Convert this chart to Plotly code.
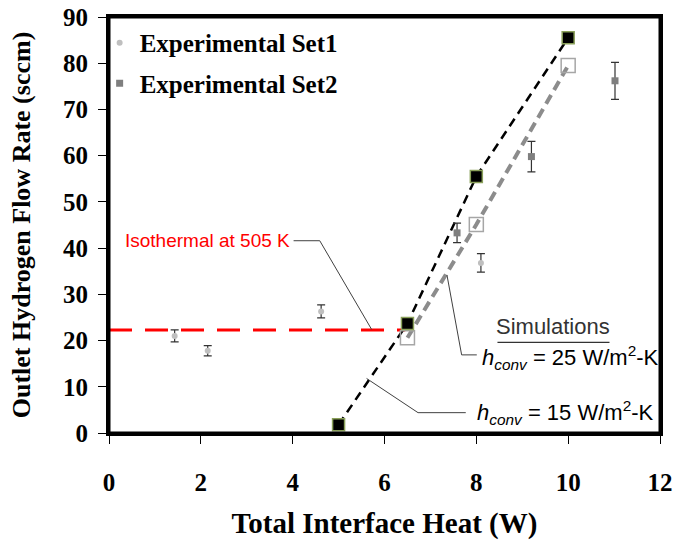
import plotly.graph_objects as go

# ---- data ----
set1_x = [1.43, 2.15, 4.62, 8.10]
set1_y = [21.0, 17.8, 26.3, 36.8]
set1_err = [1.3, 1.1, 1.4, 2.0]

set2_x = [7.58, 9.20, 11.02]
set2_y = [43.3, 59.8, 76.2]
set2_err = [2.1, 3.3, 4.0]

sim15_x = [5.0, 6.5, 8.0, 10.0]
sim15_y = [1.8, 23.7, 55.5, 85.5]

sim25_x = [6.5, 8.0, 10.0]
sim25_y = [20.6, 45.1, 79.5]

iso_x = [0.0, 6.45]
iso_y = [22.3, 22.3]

x_ticks = [0, 2, 4, 6, 8, 10, 12]
y_ticks = [0, 10, 20, 30, 40, 50, 60, 70, 80, 90]

SERIF = "Liberation Serif, Times New Roman, serif"
SANS = "Liberation Sans, Arial, sans-serif"

fig = go.Figure()

# isothermal red dashed line
fig.add_trace(go.Scatter(x=iso_x, y=iso_y, mode="lines",
                         line=dict(color="#ff0000", width=3, dash="23px,13px"),
                         showlegend=False, hoverinfo="skip"))

# simulation lines
fig.add_trace(go.Scatter(x=sim25_x, y=sim25_y, mode="lines",
                         line=dict(color="#8c8c8c", width=4, dash="10px,6px"),
                         showlegend=False))
fig.add_trace(go.Scatter(x=sim15_x, y=sim15_y, mode="lines",
                         line=dict(color="#000000", width=2.5, dash="9px,6px"),
                         showlegend=False))

# simulation markers
fig.add_trace(go.Scatter(x=sim25_x, y=sim25_y, mode="markers",
                         marker=dict(symbol="square-open", size=14, color="#a6a6a6",
                                     line=dict(width=1.5, color="#a6a6a6")),
                         showlegend=False))
fig.add_trace(go.Scatter(x=sim15_x, y=sim15_y, mode="markers",
                         marker=dict(symbol="square", size=12, color="#000000",
                                     line=dict(width=1.5, color="#8aa05a")),
                         showlegend=False))

# experimental data
fig.add_trace(go.Scatter(x=set1_x, y=set1_y, mode="markers", name="<b>Experimental Set1</b>",
                         legendgroup="a",
                         marker=dict(symbol="circle", size=6, color="#bfbfbf"),
                         error_y=dict(type="data", array=set1_err, visible=True,
                                      color="#333333", thickness=1.2, width=4)))
fig.add_trace(go.Scatter(x=set2_x, y=set2_y, mode="markers", name="<b>Experimental Set2</b>",
                         legendgroup="b",
                         marker=dict(symbol="square", size=7, color="#7f7f7f"),
                         error_y=dict(type="data", array=set2_err, visible=True,
                                      color="#333333", thickness=1.2, width=4)))

# leader lines
lead = dict(color="#404040", width=1)
fig.add_shape(type="path", xref="x", yref="y",
              path="M 4.02 41.6 L 4.59 41.6 L 5.72 22.4", line=lead)
fig.add_shape(type="path", xref="x", yref="y",
              path="M 7.36 34.2 L 7.68 16.9 L 8.01 16.9", line=lead)
fig.add_shape(type="path", xref="x", yref="y",
              path="M 5.61 11.8 L 6.73 4.4 L 7.77 4.4", line=lead)

# plot frame
fig.add_shape(type="rect", xref="paper", yref="paper", x0=0, x1=1, y0=0, y1=1,
              line=dict(color="black", width=3), layer="above")

# annotations
fig.add_annotation(x=3.98, y=41.6, xref="x", yref="y", xanchor="right", yanchor="middle",
                   text="Isothermal at 505 K", showarrow=False,
                   font=dict(family=SANS, size=19, color="#ff0000"))
fig.add_annotation(x=9.68, y=23.0, xref="x", yref="y", xanchor="center", yanchor="middle",
                   text="Simulations", showarrow=False,
                   font=dict(family=SANS, size=22, color="#333333"))
fig.add_shape(type="line", xref="x", yref="y", x0=8.46, x1=10.9, y0=19.6, y1=19.6,
              line=dict(color="#333333", width=1.3))
fig.add_annotation(x=8.07, y=16.4, xref="x", yref="y", xanchor="left", yanchor="middle",
                   text="<i>h</i><sub><i>conv</i></sub> = 25 W/m<sup>2</sup>-K",
                   showarrow=False, font=dict(family=SANS, size=22, color="#000000"))
fig.add_annotation(x=7.98, y=4.5, xref="x", yref="y", xanchor="left", yanchor="middle",
                   text="<i>h</i><sub><i>conv</i></sub> = 15 W/m<sup>2</sup>-K",
                   showarrow=False, font=dict(family=SANS, size=22, color="#000000"))

fig.update_layout(
    width=676, height=543,
    margin=dict(l=109, r=16, t=17, b=110),
    plot_bgcolor="white", paper_bgcolor="white",
    legend=dict(x=-0.017, y=0.993, xanchor="left", yanchor="top",
                font=dict(family=SERIF, size=25, color="black"),
                bgcolor="rgba(0,0,0,0)", tracegroupgap=5, traceorder="grouped",
                itemwidth=30),
    xaxis=dict(range=[0, 12], tickmode="array", tickvals=x_ticks,
               ticktext=["<b>%d</b>" % v for v in x_ticks],
               showgrid=False, zeroline=False, automargin=False,
               showline=True, linewidth=3, linecolor="black", mirror=True,
               ticks="outside", ticklen=8, tickwidth=1, tickcolor="black",
               ticklabelstandoff=17,
               tickfont=dict(family=SERIF, size=25, color="black"),
               title=dict(text="<b>Total Interface Heat (W)</b>", standoff=18,
                          font=dict(family=SERIF, size=29, color="black"))),
    yaxis=dict(range=[0, 90], tickmode="array", tickvals=y_ticks,
               ticktext=["<b>%d</b>" % v for v in y_ticks],
               showgrid=False, zeroline=False, automargin=False,
               showline=True, linewidth=3, linecolor="black", mirror=True,
               ticks="outside", ticklen=8, tickwidth=1, tickcolor="black",
               ticklabelstandoff=5,
               tickfont=dict(family=SERIF, size=25, color="black"),
               title=dict(text="<b>Outlet Hydrogen Flow Rate (sccm)</b>", standoff=25,
                          font=dict(family=SERIF, size=26, color="black"))),
)

fig.write_html("out.html")
